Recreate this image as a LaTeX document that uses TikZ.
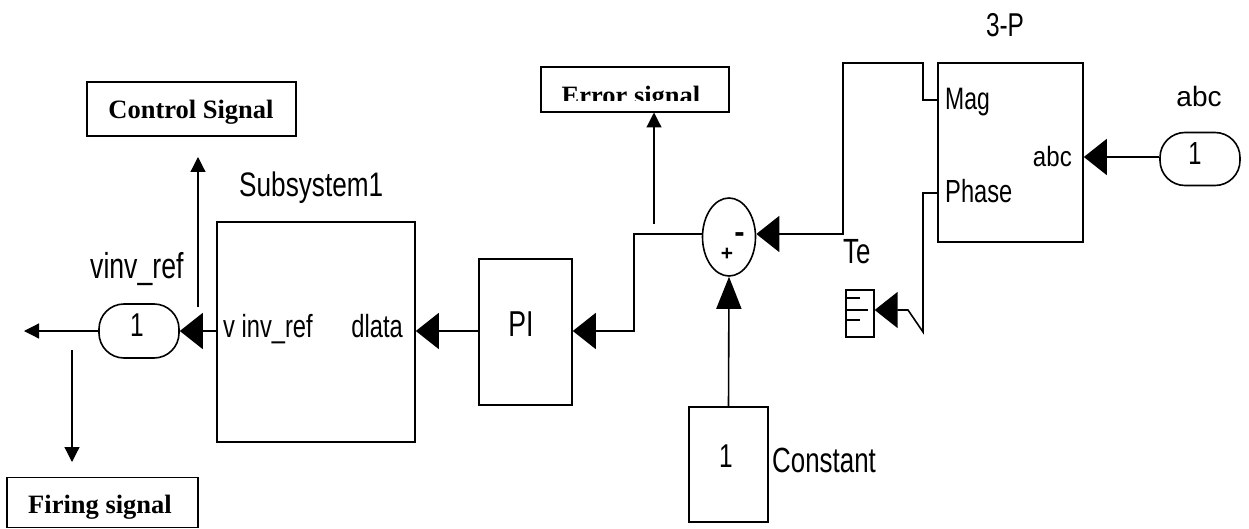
\documentclass[tikz,border=0pt]{standalone}
\usepackage{fontspec}
\setmainfont{Liberation Serif}
\newfontfamily\simfont[FakeStretch=0.74]{Liberation Sans}
\newfontfamily\simsub[FakeStretch=0.77]{Liberation Sans}
\newfontfamily\simmid[FakeStretch=0.86]{Liberation Sans}
\newfontfamily\simwide{Liberation Sans}
\usetikzlibrary{arrows.meta,shapes.geometric}
\newcommand\fsz[1]{\fontsize{#1}{#1}\selectfont}
\tikzset{
  blk/.style={draw, line width=1.6pt, inner sep=0pt},
  lblbox/.style={draw, line width=1.1pt, inner sep=0pt},
  sig/.style={line width=1.6pt},
  bigarr/.style={sig, -{Triangle[length=23pt,width=36pt]}},
  uparr/.style={sig, -{Triangle[length=32pt,width=25pt]}},
  smallarr/.style={line width=1.2pt, -{Triangle[length=15pt,width=15pt]}},
  txt/.style={inner sep=0pt},
  bold/.style={inner sep=0pt, font=\bfseries\fsz{26.5}},
}
\begin{document}
\begin{tikzpicture}[x=1pt,y=-1pt]
\useasboundingbox (0,0) rectangle (1249,529);
% label boxes
\node[lblbox, minimum width=209pt, minimum height=54pt] (ctrl) at (191.5,109) {};
\node[bold, anchor=base] (ctrltxt) at (191,119) {Control Signal};
\node[lblbox, minimum width=191pt, minimum height=50pt] (fire) at (102.5,502.5) {};
\node[bold, anchor=base] (firetxt) at (100,513) {Firing signal};
\node[lblbox, minimum width=188pt, minimum height=45pt] (err) at (635,89.5) {};
\begin{scope}
  \clip (541,67) rectangle (729,100.5);
  \node[bold, anchor=base] (errtxt) at (631,104.5) {Error signal};
\end{scope}
% blocks
\node[blk, minimum width=198pt, minimum height=220pt] (sub) at (316,332) {};
\node[blk, rounded corners=25pt, minimum width=80pt, minimum height=54pt] (out) at (139,331) {};
\node[blk, minimum width=93pt, minimum height=146pt] (pi) at (525.5,332) {};
\node[blk, ellipse, minimum width=53pt, minimum height=78pt] (sum) at (729,237) {};
\node[blk, minimum width=79pt, minimum height=115pt] (const) at (728.5,464.5) {};
\node[blk, minimum width=145pt, minimum height=179pt] (tp) at (1010.5,152.5) {};
\node[blk, rounded corners=25pt, minimum width=80pt, minimum height=53pt] (abcin) at (1200,159) {};
\node[draw, line width=1.3pt, inner sep=0pt, minimum width=28pt, minimum height=47pt] (goto) at (860,313.5) {};
\draw[line width=1.1pt] (846,298) -- (860,298) (846,310) -- (868,310) (846,320) -- (860,320);
% texts
\node[txt, anchor=base west, font=\simsub\fsz{34}] (subname) at (239,197) {Subsystem1};
\node[txt, anchor=base west, font=\simfont\fsz{36}] (outname) at (90,278) {vinv\_ref};
\node[txt, anchor=base west, font=\simfont\fsz{32}] (subin) at (223,337) {v inv\_ref};
\node[txt, anchor=base east, font=\simfont\fsz{32}] (subout) at (403,337) {dlata};
\node[txt, anchor=base, font=\simfont\fsz{33}] (outnum) at (137,336) {1};
\node[txt, anchor=base, font=\simfont\fsz{36}] (pitxt) at (521,336) {PI};
\node[txt, anchor=base, font=\simfont\fsz{33}] (constnum) at (726,467) {1};
\node[txt, anchor=base west, font=\simfont\fsz{35}] (constname) at (772,472) {Constant};
\node[txt, anchor=base west, font=\simfont\fsz{35}] (te) at (843,263) {Te};
\node[txt, anchor=base, font=\simfont\fsz{33}] (tpname) at (1005,37) {3-P};
\node[txt, anchor=base west, font=\simfont\fsz{31}] (mag) at (945,110) {Mag};
\node[txt, anchor=base west, font=\simfont\fsz{32}] (phase) at (945,203) {Phase};
\node[txt, anchor=base east, font=\simmid\fsz{28}] (abcport) at (1072,167) {abc};
\node[txt, anchor=base, font=\simwide\fsz{28}] (abcname) at (1199,107) {abc};
\node[txt, anchor=base, font=\simfont\fsz{32}] (abcnum) at (1195,165) {1};
\node[txt, anchor=base, font=\bfseries\simwide\fsz{31}] (minus) at (739.5,242.5) {-};
\node[txt, anchor=base, font=\bfseries\simwide\fsz{21}] (plus) at (727,260.5) {+};
% coordinates
\coordinate (leftend) at (24,331);
\coordinate (cs0) at (198,307);
\coordinate (cs1) at (198,157);
\coordinate (fs0) at (72,350);
\coordinate (fs1) at (72,462);
\coordinate (es0) at (654,224);
\coordinate (es1) at (654,112.5);
% connectors
\draw[bigarr] (sub.west |- 0,331) -- (out.east);
\draw[smallarr] (out.west) -- (leftend);
\draw[smallarr] (cs0) -- (cs1);
\draw[smallarr] (fs0) -- (fs1);
\draw[bigarr] (pi.west |- 0,331) -- (sub.east |- 0,331);
\draw[bigarr] ([yshift=3pt]sum.west) -- (634,234) -- (634,331) -- (pi.east |- 0,331);
\draw[smallarr] (es0) -- (es1);
\draw[bigarr] (tp.west |- 0,100) -- (923,100) -- (923,63) -- (843,63) -- (843,234) -- ([yshift=3pt]sum.east);
\draw[uparr] (const.north) -- (sum.south);
\draw[bigarr] (tp.west |- 0,193) -- (923,193) -- (923,332) -- (908,310) -- (goto.east |- 0,310);
\draw[bigarr] (abcin.west |- 0,157) -- (tp.east |- 0,157);
\end{tikzpicture}
\end{document}
